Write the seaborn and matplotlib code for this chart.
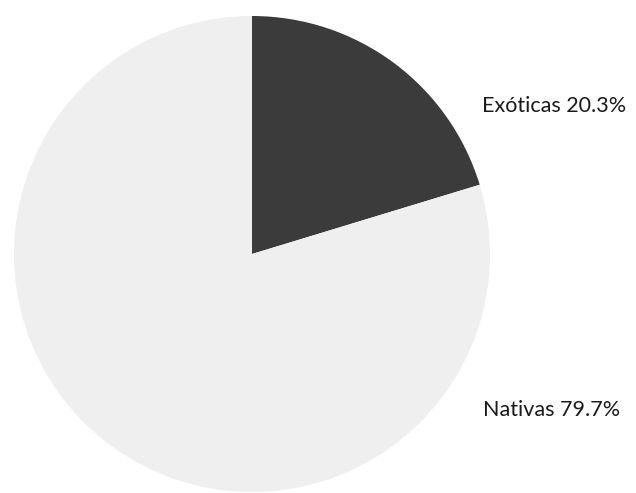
import matplotlib
matplotlib.use("Agg")
import matplotlib.pyplot as plt
import seaborn as sns

categories = ["Exóticas", "Nativas"]
values = [20.3, 79.7]
colors = ["#3b3b3b", "#efefef"]

sns.set_style("white")
plt.rcParams['font.family'] = ['Lato', 'DejaVu Sans']

fig = plt.figure(figsize=(6.36, 4.93), dpi=100)
cx, cy, r = 252, 493 - 254, 238
ax = fig.add_axes([(cx - r) / 636, (cy - r) / 493, 2 * r / 636, 2 * r / 493])
ax.pie(values, colors=colors, startangle=90, counterclock=False,
       radius=1, wedgeprops=dict(linewidth=0))
ax.set_xlim(-1, 1)
ax.set_ylim(-1, 1)
ax.set_aspect('equal')
ax.axis('off')

label_pos = [(0.966, 0.622), (0.97, -0.655)]
for cat, val, (x, y) in zip(categories, values, label_pos):
    ax.text(x, y, f"{cat} {val:.1f}%", ha='left', va='center',
            fontsize=15.5, color='#1a1a1a', clip_on=False)

fig.savefig("out.png", dpi=100)
